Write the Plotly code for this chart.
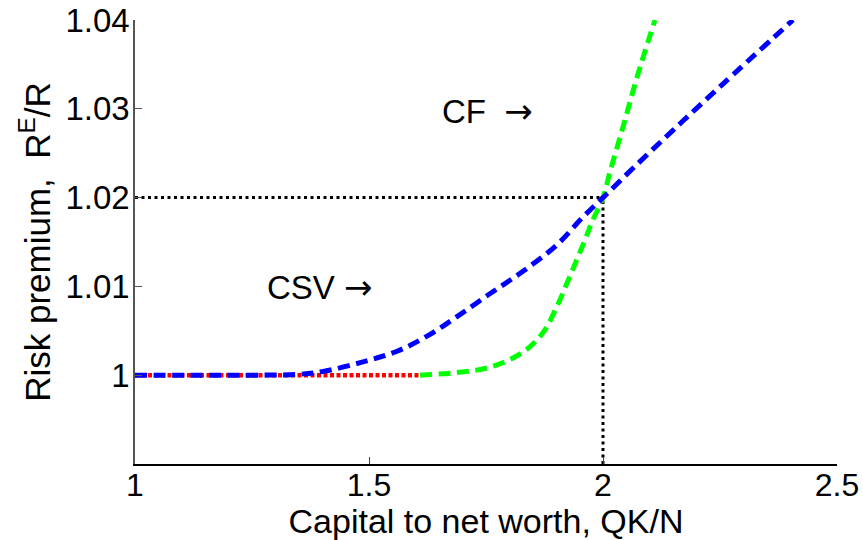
import plotly.graph_objects as go

# Data
red_x = [1.0, 1.609]
red_y = [1.0, 1.0]

green_x = [1.609, 1.688, 1.7585, 1.829, 1.872, 1.902, 1.925, 1.944, 1.962, 1.976, 2.0, 2.015, 2.043, 2.073, 2.111]
green_y = [1.0, 1.0003, 1.0009, 1.0026, 1.0048, 1.0078, 1.0106, 1.0130, 1.0153, 1.0172, 1.0200, 1.0229, 1.0280, 1.0336, 1.0400]

blue_x = [1.0, 1.2, 1.35, 1.40, 1.487, 1.56, 1.624, 1.688, 1.759, 1.829, 1.902, 1.957, 2.0, 2.064, 2.15, 2.25, 2.406]
blue_y = [1.0, 1.0, 1.0001, 1.0004, 1.0015, 1.0027, 1.0044, 1.0066, 1.0092, 1.0117, 1.0147, 1.0178, 1.0200, 1.0233, 1.0276, 1.0325, 1.0400]

ref_h_x = [1.0, 2.0]
ref_h_y = [1.02, 1.02]
ref_v_x = [2.0, 2.0]
ref_v_y = [0.99, 1.02]

x_ticks = [1, 1.5, 2, 2.5]
x_tick_labels = ["1", "1.5", "2", "2.5"]
y_ticks = [1.0, 1.01, 1.02, 1.03, 1.04]
y_tick_labels = ["1", "1.01", "1.02", "1.03", "1.04"]

FONT = "Liberation Sans, Arial, sans-serif"
ARROW = '<span style="font-family:DejaVu Sans;font-size:34px">\u2192</span>'

fig = go.Figure()
fig.add_trace(go.Scatter(x=ref_h_x, y=ref_h_y, mode="lines",
                         line=dict(color="black", width=3, dash="3px,3.5px")))
fig.add_trace(go.Scatter(x=ref_v_x, y=ref_v_y, mode="lines",
                         line=dict(color="black", width=3, dash="3px,3.5px")))
fig.add_trace(go.Scatter(x=red_x, y=red_y, mode="lines",
                         line=dict(color="#ff0000", width=4.5, dash="4px,2.5px")))
fig.add_trace(go.Scatter(x=green_x, y=green_y, mode="lines", line_shape="spline",
                         line=dict(color="#00ff00", width=5, dash="12px,6.5px")))
fig.add_trace(go.Scatter(x=blue_x, y=blue_y, mode="lines", line_shape="spline",
                         line=dict(color="#0000ff", width=5, dash="12px,6.5px")))

fig.add_annotation(x=1.652, y=1.0298, text="CF  " + ARROW, showarrow=False,
                   xanchor="left", yanchor="middle", font=dict(size=33, color="black", family=FONT))
fig.add_annotation(x=1.278, y=1.0099, text="CSV " + ARROW, showarrow=False,
                   xanchor="left", yanchor="middle", font=dict(size=33, color="black", family=FONT))

fig.update_layout(
    width=863, height=540,
    margin=dict(l=135, r=26, t=20, b=76, autoexpand=False),
    paper_bgcolor="white", plot_bgcolor="white",
    showlegend=False,
    font=dict(family=FONT, color="black", size=33),
    xaxis=dict(range=[1, 2.5], tickvals=x_ticks, ticktext=x_tick_labels, automargin=False,
               showgrid=False, zeroline=False, showline=True, linecolor="black", linewidth=1.5,
               ticks="inside", ticklen=7, tickcolor="#444", tickfont=dict(size=32),
               ticklabelstandoff=-8,
               title=dict(text="Capital to net worth, QK/N", font=dict(size=34), standoff=6)),
    yaxis=dict(range=[0.99, 1.04], tickvals=y_ticks, ticktext=y_tick_labels, automargin=False,
               showgrid=False, zeroline=False, showline=True, linecolor="#555", linewidth=1.5,
               ticks="inside", ticklen=7, tickcolor="#555", tickfont=dict(size=33),
               ticklabelstandoff=-3,
               title=dict(text="Risk premium,  R<sup>E</sup>/R", font=dict(size=35), standoff=4)),
)

fig.write_html("out.html", config={"displayModeBar": False},
               post_script="document.body.style.margin='0';document.body.style.overflow='hidden';")
